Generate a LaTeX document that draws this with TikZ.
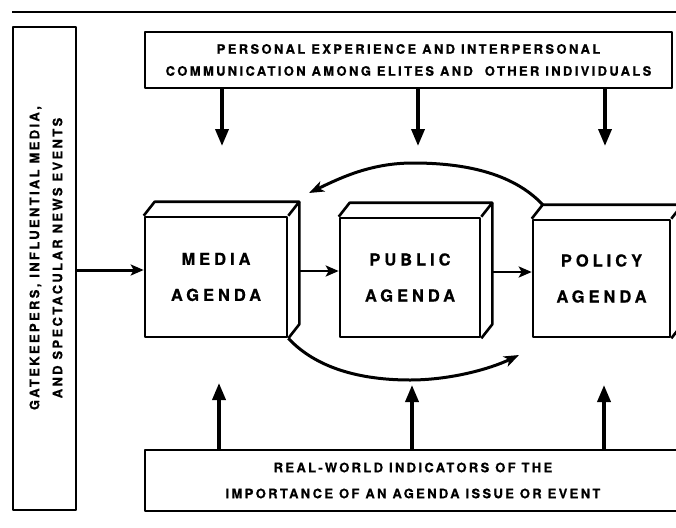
\documentclass[tikz,border=0pt]{standalone}
\usepackage{fontspec}
\setmainfont{TeX Gyre Heros}[LetterSpace=18,BoldFeatures={FakeBold=0.6}]
\newfontfamily\boxfont{TeX Gyre Heros}[LetterSpace=24,BoldFeatures={FakeBold=0.6}]
\usetikzlibrary{arrows.meta,calc}
\begin{document}
\begin{tikzpicture}[x=1pt,y=-1pt,
  line join=round,
  frame/.style={draw,line width=2.6pt,inner sep=0pt,align=center,
    font=\fontsize{13}{22}\selectfont\bfseries},
  face/.style={draw,line width=2.6pt,inner sep=0pt,align=center,
    font=\boxfont\fontsize{16.5}{36}\selectfont\bfseries},
  bigarrow/.style={line width=3.6pt,-{Triangle[length=17pt,width=13pt]}},
  midarrow/.style={line width=2.6pt,-{Stealth[length=13pt,width=11pt,inset=3pt]}},
  curvearrow/.style={line width=3pt,-{Stealth[length=15pt,width=11pt,inset=4pt]}},
  rule/.style={line width=1.4pt}]
\useasboundingbox (0,0) rectangle (676,527);
% top rule
\coordinate (r1) at (12,12);
\coordinate (r2) at (676,12);
\draw[rule] (r1) -- (r2);
% left box
\node[frame,minimum width=63pt,minimum height=483pt] (gate) at (44.5,268.5) {};
\node[font=\fontsize{13}{23}\selectfont\bfseries,align=center,rotate=90] (gatetext) at (46,258)
  {GATEKEEPERS, INFLUENTIAL MEDIA,\\AND SPECTACULAR NEWS EVENTS};
% top box
\node[frame,minimum width=527pt,minimum height=56pt] (pers) at (408.5,60)
  {PERSONAL EXPERIENCE AND INTERPERSONAL\\COMMUNICATION AMONG ELITES AND \ OTHER INDIVIDUALS};
% bottom box
\node[frame,minimum width=560pt,minimum height=61pt,
  font=\fontsize{13}{26}\selectfont\bfseries] (real) at (425,480.5)
  {\hspace*{-24pt}REAL-WORLD INDICATORS OF THE\\\hspace*{-24pt}IMPORTANCE OF AN AGENDA ISSUE OR EVENT};
% cubes: front faces
\node[face,minimum width=142pt,minimum height=120pt] (media) at (216,277) {MEDIA\\AGENDA};
\node[face,minimum width=140pt,minimum height=119pt] (public) at (410,277.5) {PUBLIC\\AGENDA};
\node[face,minimum width=137pt,minimum height=117pt] (policy) at (601.5,278.5) {POLICY\\AGENDA};
% cubes: top and side faces
\foreach \c in {media,public,policy}{
  \draw[line width=2.6pt]
    (\c.north west) -- ++(11,-14) coordinate (\c-bnw)
    -- ($(\c.north east)+(11,-14)$) coordinate (\c-bne)
    -- ($(\c.south east)+(11,-14)$) coordinate (\c-bse)
    -- (\c.south east);
  \draw[line width=2.6pt] (\c.north east) -- (\c-bne);
}
% arrows from top box
\coordinate (d1) at (222,146);
\coordinate (d2) at (418,146);
\coordinate (d3) at (605,146);
\draw[bigarrow] (pers.south -| d1) -- (d1);
\draw[bigarrow] (pers.south -| d2) -- (d2);
\draw[bigarrow] (pers.south -| d3) -- (d3);
% arrows from bottom box
\coordinate (u1) at (219,383);
\coordinate (u2) at (412,385);
\coordinate (u3) at (604,385);
\draw[bigarrow] (real.north -| u1) -- (u1);
\draw[bigarrow] (real.north -| u2) -- (u2);
\draw[bigarrow] (real.north -| u3) -- (u3);
% horizontal arrows
\draw[midarrow,line width=3pt] (gate.east |- 0,270) -- (media.west |- 0,270);
\draw[midarrow] (media-bne |- 0,271) -- (public.west |- 0,271);
\draw[midarrow] (public-bne |- 0,272) -- (policy.west |- 0,272);
% curved arrows
\coordinate (ctop) at (309,193);
\draw[curvearrow] (policy-bnw) .. controls (512,172) and (462,163) .. (413,163)
   .. controls (372,163) and (342,177) .. (ctop);
\coordinate (cbot) at (519,355);
\draw[curvearrow] (media.south east) .. controls (316,368) and (360,380) .. (410,380)
   .. controls (450,380) and (490,369) .. (cbot);
\end{tikzpicture}
\end{document}
